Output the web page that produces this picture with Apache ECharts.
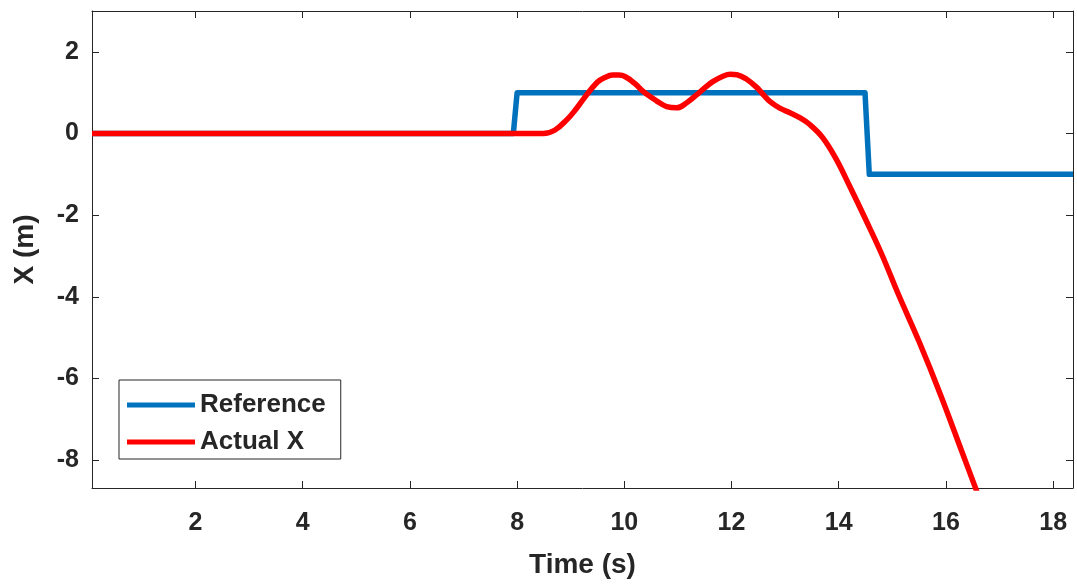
<!DOCTYPE html>
<html>
<head>
<meta charset="utf-8">
<script src="https://cdn.jsdelivr.net/npm/echarts@6/dist/echarts.min.js"></script>
<style>
  html, body { margin: 0; padding: 0; background: #fff; }
  #chart { width: 1077px; height: 586px; }
</style>
</head>
<body>
<div id="chart"></div>
<script>
// Commanded step reference for X
const refTime  = [0.07, 7.93, 8.0, 14.49, 14.57, 18.37];
const refValue = [0, 0, 1, 1, -1, -1];

// Measured X response
const actualTime  = [0.07, 8.0, 8.3, 8.49, 8.7, 8.93, 9.1, 9.23, 9.49, 9.65, 9.78, 9.9, 10.02, 10.2, 10.35, 10.6, 10.79, 10.98,
                     11.17, 11.36, 11.5, 11.65, 11.85, 11.98, 12.1, 12.27, 12.47, 12.6, 12.72, 12.9, 13.09, 13.27, 13.46,
                     13.7, 13.95, 14.2, 14.5, 14.8, 15.1, 15.5, 15.9, 16.3, 16.7];
const actualValue = [0, 0, 0, 0, 0.08, 0.34, 0.6, 0.83, 1.25, 1.38, 1.43, 1.43, 1.39, 1.22, 1.03, 0.8, 0.66, 0.63,
                     0.76, 0.96, 1.12, 1.27, 1.41, 1.45, 1.44, 1.34, 1.13, 0.94, 0.78, 0.62, 0.51, 0.39, 0.22,
                     -0.1, -0.62, -1.28, -2.1, -2.95, -3.9, -5.1, -6.4, -7.8, -9.2];

// Axis ticks
const xTicks = [2, 4, 6, 8, 10, 12, 14, 16, 18];
const yTicks = [-8, -6, -4, -2, 0, 2];

const xRange = [0.07, 18.37];
const yRange = [-8.68, 3];

const ink = '#262626';
const font = 'Arial, "Liberation Sans", Helvetica, sans-serif';

const pair = (xs, ys) => xs.map((x, i) => [x, ys[i]]);

function frameAxis(extra) {
  return Object.assign({
    type: 'value',
    axisLine: { show: true, onZero: false, lineStyle: { color: ink, width: 1 } },
    splitLine: { show: false },
  }, extra);
}

function ticks(values) {
  return { show: true, inside: true, length: 7, customValues: values, lineStyle: { color: ink, width: 1 } };
}

const chart = echarts.init(document.getElementById('chart'));
chart.setOption({
  animation: false,
  backgroundColor: '#ffffff',
  grid: { left: 92, right: 4, top: 11, bottom: 98, containLabel: false },
  xAxis: [
    frameAxis({
      position: 'bottom', min: xRange[0], max: xRange[1],
      name: 'Time (s)', nameLocation: 'middle', nameGap: 63,
      nameTextStyle: { color: ink, fontSize: 28, fontWeight: 'bold', fontFamily: font },
      axisTick: ticks(xTicks),
      axisLabel: { customValues: xTicks, margin: 23, color: ink, fontSize: 25, fontWeight: 'bold', fontFamily: font },
    }),
    frameAxis({
      position: 'top', min: xRange[0], max: xRange[1],
      axisTick: ticks(xTicks),
      axisLabel: { show: false },
    }),
  ],
  yAxis: [
    frameAxis({
      position: 'left', min: yRange[0], max: yRange[1],
      name: 'X (m)', nameLocation: 'middle', nameGap: 53, nameRotate: 90,
      nameTextStyle: { color: ink, fontSize: 28, fontWeight: 'bold', fontFamily: font },
      axisTick: ticks(yTicks),
      axisLabel: { customValues: yTicks, margin: 13, color: ink, fontSize: 25, fontWeight: 'bold', fontFamily: font },
    }),
    frameAxis({
      position: 'right', min: yRange[0], max: yRange[1],
      axisTick: ticks(yTicks),
      axisLabel: { show: false },
    }),
  ],
  legend: {
    orient: 'vertical',
    left: 119, top: 380,
    padding: [12, 15, 4, 8],
    itemGap: 11,
    itemWidth: 68, itemHeight: 5,
    icon: 'rect',
    backgroundColor: '#ffffff',
    borderColor: ink, borderWidth: 1, borderRadius: 0,
    textStyle: { color: ink, fontSize: 26, fontWeight: 'bold', fontFamily: font, lineHeight: 26 },
    data: ['Reference', 'Actual X'],
  },
  series: [
    {
      name: 'Reference', type: 'line',
      data: pair(refTime, refValue),
      showSymbol: false, symbol: 'none',
      lineStyle: { color: '#0072BD', width: 5.5, join: 'round' },
      itemStyle: { color: '#0072BD' },
      clip: true, z: 2,
    },
    {
      name: 'Actual X', type: 'line',
      data: pair(actualTime, actualValue),
      smooth: 0.4,
      showSymbol: false, symbol: 'none',
      lineStyle: { color: '#FF0000', width: 5.5, join: 'round' },
      itemStyle: { color: '#FF0000' },
      clip: true, z: 3,
    },
  ],
});
</script>
</body>
</html>
